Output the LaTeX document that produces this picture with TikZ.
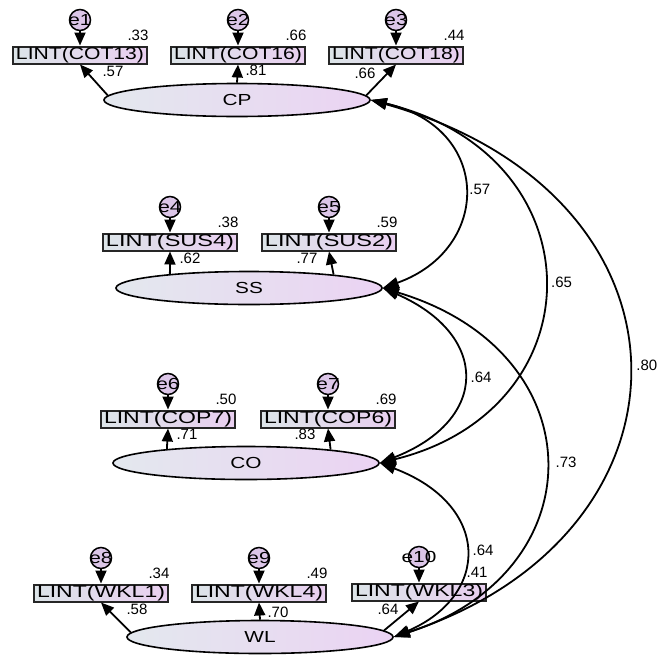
\documentclass[tikz,border=0pt]{standalone}
\usepackage{fontspec}
\setmainfont{Liberation Sans}
\usetikzlibrary{arrows.meta,shapes.geometric}
\definecolor{latL}{HTML}{E3E8EE}
\definecolor{latR}{HTML}{EBD3F3}
\definecolor{obsL}{HTML}{DCE4E8}
\definecolor{obsR}{HTML}{E9CFF0}
\definecolor{errC}{HTML}{DCC6E8}
\newcommand{\widetxt}[1]{\scalebox{1.3}[1]{#1}}
\newcommand{\fitbox}[1]{\resizebox{128pt}{\height}{#1}}

\begin{document}
\begin{tikzpicture}[x=1pt,y=-1pt,
    lat/.style={ellipse, draw, line width=1.6, minimum width=266, minimum height=33, inner sep=0,
      left color=latL, right color=latR, font=\fontsize{16}{16}\selectfont},
    obs/.style={rectangle, draw=black!85, line width=2, minimum width=134, minimum height=17, inner sep=0,
      left color=obsL, right color=obsR, font=\fontsize{17}{17}\selectfont},
    err/.style={circle, draw, line width=1.5, minimum size=21, inner sep=0, fill=errC,
      font=\fontsize{16}{16}\selectfont},
    ld/.style={-{Triangle[length=13,width=11]}, line width=1.8},
    cv/.style={{Triangle[length=16,width=11]}-{Triangle[length=16,width=11]}, line width=1.8},
    num/.style={inner sep=0, font=\fontsize{15}{15}\selectfont}]
  \useasboundingbox (0,0) rectangle (658,656);

  % factors
  \node[lat] (CP) at (237,100) {\widetxt{CP}};
  \node[lat] (SS) at (249,288) {\widetxt{SS}};
  \node[lat] (CO) at (246,463) {\widetxt{CO}};
  \node[lat] (WL) at (260,637) {\widetxt{WL}};

  % indicators, errors, loadings
  \foreach \v/\x/\y/\e/\f/\ang/\rsq/\lx/\ly/\lod in {
      COT13/80/55/e1/CP/178/.33/113/71/.57,
      COT16/238/55/e2/CP/90/.66/256/70/.81,
      COT18/396/55/e3/CP/2/.44/365/73/.66,
      SUS4/170/242/e4/SS/170/.38/190/258/.62,
      SUS2/329/242/e5/SS/9/.59/307/258/.77,
      COP7/168/419/e6/CO/170/.50/187/434/.71,
      COP6/328/419/e7/CO/9/.69/305/434/.83,
      WKL1/101/593/e8/WL/178/.34/137/609/.58,
      WKL4/259/593/e9/WL/90/.49/278/612/.70,
      WKL3/419/592/e10/WL/3/.41/388/609/.64} {
    \node[obs] (\v) at (\x,\y) {\fitbox{LINT(\v)}};
    \node[err] (\e) at (\x,\y-35) {\makebox[0pt]{\widetxt{\e}}};
    \node[num] (r\v) at (\x+58,\y-20) {\rsq};
    \node[num] (l\v) at (\lx,\ly) {\lod};
    \draw[ld] (\e) -- (\v);
    \draw[ld] (\f.\ang) -- (\v.south);
  }

  % covariances
  \draw[cv] (CP.east) .. controls +(122,28) and +(109,-39) .. (SS.east)
    node[num, pos=.5, anchor=west, xshift=5] (cCPSS) {.57};
  \draw[cv] (CP.east) .. controls +(229,55) and +(219,-54) .. (CO.east)
    node[num, pos=.5, anchor=west, xshift=7] (cCPCO) {.65};
  \draw[cv] (CP.east) .. controls +(339,95) and +(315,-104) .. (WL.east)
    node[num, pos=.5, anchor=west, xshift=8] (cCPWL) {.80};
  \draw[cv] (SS.east) .. controls +(107,47) and +(110,-43) .. (CO.east)
    node[num, pos=.5, anchor=west, xshift=7] (cSSCO) {.64};
  \draw[cv] (SS.east) .. controls +(214,64) and +(203,-65) .. (WL.east)
    node[num, pos=.5, anchor=west, xshift=10] (cSSWL) {.73};
  \draw[cv] (CO.east) .. controls +(111,42) and +(97,-42) .. (WL.east)
    node[num, pos=.5, anchor=west, xshift=7] (cCOWL) {.64};
\end{tikzpicture}
\end{document}
